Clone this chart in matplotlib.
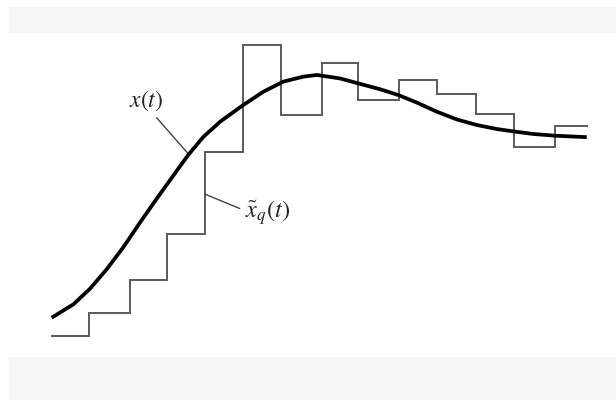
import matplotlib
matplotlib.use("Agg")
import matplotlib.pyplot as plt
from matplotlib.patches import Rectangle

plt.rcParams['mathtext.fontset'] = 'stix'
plt.rcParams['font.family'] = ['DejaVu Serif']

# quantized (staircase) signal: sample instants and held levels
step_edges = [0.0, 0.97, 2.02, 2.98, 3.95, 4.94, 5.91, 6.96, 7.90, 8.95, 9.94, 10.94, 11.92, 12.97, 13.79]
step_levels = [0.0, 0.79, 1.92, 3.50, 6.33, 10.0, 7.59, 9.39, 8.10, 8.81, 8.32, 7.62, 6.50, 7.21]

# continuous signal x(t)
curve_t = [0.0, 0.56, 0.99, 1.42, 1.85, 2.28, 2.71, 3.13, 3.52, 3.91, 4.34, 4.90, 5.45,
           5.97, 6.48, 6.83, 7.43, 7.90, 8.46, 8.93, 9.41, 9.92, 10.44, 10.95, 11.47,
           11.94, 12.41, 12.97, 13.79]
curve_x = [0.62, 1.08, 1.62, 2.29, 3.05, 3.90, 4.72, 5.50, 6.22, 6.84, 7.36, 7.90, 8.39,
           8.74, 8.91, 8.97, 8.85, 8.68, 8.48, 8.28, 8.02, 7.71, 7.44, 7.25, 7.11,
           7.02, 6.94, 6.88, 6.83]

label_x = r'$x(t)$'
label_xq = r'$\tilde{x}_q(t)$'

fig = plt.figure(figsize=(6.16, 4.01), dpi=100)
fig.patch.set_facecolor('white')
# light grey bands at top and bottom
fig.patches.append(Rectangle((9/616, (401-33)/401), 1-9/616, 25.7/401,
                             transform=fig.transFigure, facecolor='#f7f7f7', edgecolor='none', zorder=0))
fig.patches.append(Rectangle((9/616, 1/401), 1-9/616, 43/401,
                             transform=fig.transFigure, facecolor='#f7f7f7', edgecolor='none', zorder=0))

ax = fig.add_axes([0, 0, 1, 1])
ax.set_facecolor('none')
ax.set_xlim(-1.332, 14.544)
ax.set_ylim(-2.246, 11.548)
ax.axis('off')

# staircase
xs, ys = [], []
for i, lv in enumerate(step_levels):
    xs += [step_edges[i], step_edges[i+1]]
    ys += [lv, lv]
ax.plot(xs, ys, color='#5a5a5a', lw=1.4, solid_joinstyle='miter', zorder=2)

# smooth signal
ax.plot(curve_t, curve_x, color='black', lw=2.7, solid_joinstyle='round',
        solid_capstyle='butt', zorder=3)

# labels with leader lines
ax.plot([2.71, 3.51], [7.49, 6.27], color='#444444', lw=1.0, zorder=2)
ax.text(2.43, 8.07, label_x, fontsize=17, ha='center', va='center', color='#222222')
ax.plot([3.95, 4.84], [4.87, 4.38], color='#444444', lw=1.0, zorder=2)
ax.text(4.98, 4.22, label_xq, fontsize=17.5, ha='left', va='center', color='#222222')

fig.savefig('out.png', dpi=100)
